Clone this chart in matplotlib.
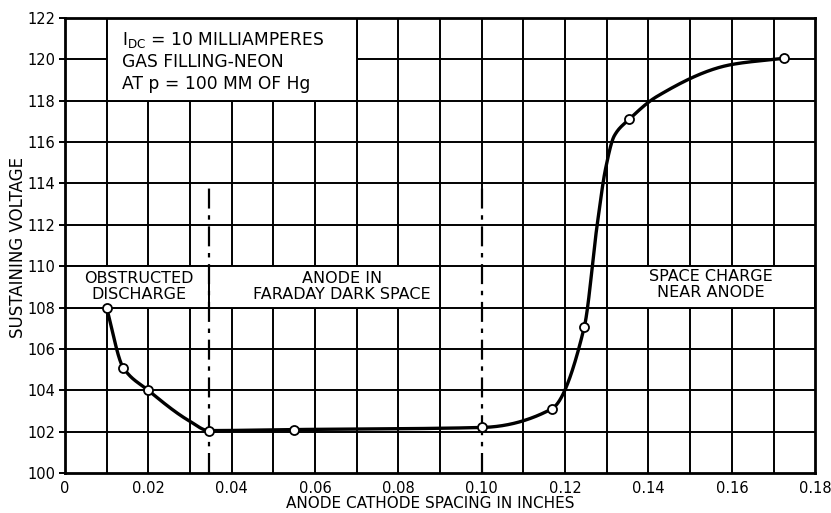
import numpy as np
import matplotlib
matplotlib.use("Agg")
import matplotlib.pyplot as plt
from matplotlib.patches import Rectangle

# measured points (open circles)
point_x = [0.0100, 0.0140, 0.0200, 0.0345, 0.0550, 0.1000, 0.1168, 0.1246, 0.1354, 0.1725]
point_y = [108.0, 105.1, 104.0, 102.05, 102.1, 102.2, 103.1, 107.05, 117.1, 120.05]

# hand drawn curve
curve_x = [0.0100, 0.0140, 0.0200, 0.0300, 0.0345, 0.0550, 0.1000, 0.1168, 0.1246,
           0.1277, 0.1297, 0.1318, 0.1354, 0.1420, 0.1600, 0.1725]
curve_y = [108.0, 105.1, 104.0, 102.5, 102.05, 102.1, 102.2, 103.1, 107.05,
           112.0, 114.7, 116.3, 117.1, 118.2, 119.75, 120.05]

x_ticks = [0, 0.02, 0.04, 0.06, 0.08, 0.10, 0.12, 0.14, 0.16, 0.18]
x_tick_labels = ["0", "0.02", "0.04", "0.06", "0.08", "0.10", "0.12", "0.14", "0.16", "0.18"]
y_ticks = list(range(100, 123, 2))

region_edges = [0.0345, 0.10]
region_top = 113.8


def pchip(x, y, xs):
    x = np.asarray(x, float)
    y = np.asarray(y, float)
    h = np.diff(x)
    d = np.diff(y) / h
    m = np.zeros_like(y)
    for k in range(1, len(x) - 1):
        if d[k - 1] * d[k] > 0:
            w1 = 2 * h[k] + h[k - 1]
            w2 = h[k] + 2 * h[k - 1]
            m[k] = (w1 + w2) / (w1 / d[k - 1] + w2 / d[k])
    m[0] = d[0]
    m[-1] = d[-1]
    idx = np.clip(np.searchsorted(x, xs) - 1, 0, len(h) - 1)
    t = (xs - x[idx]) / h[idx]
    h00 = 2 * t**3 - 3 * t**2 + 1
    h10 = t**3 - 2 * t**2 + t
    h01 = -2 * t**3 + 3 * t**2
    h11 = t**3 - t**2
    return (h00 * y[idx] + h10 * h[idx] * m[idx]
            + h01 * y[idx + 1] + h11 * h[idx] * m[idx + 1])


fig = plt.figure(figsize=(8.31, 5.13), dpi=100)
ax = fig.add_axes([0.078, 0.078, 0.903, 0.887])

ax.set_xlim(0, 0.18)
ax.set_ylim(100, 122)

# grid
grid_x = [round(v, 2) for v in np.arange(0.01, 0.18, 0.01)]
for gx in grid_x:
    if abs(gx - 0.10) < 1e-9:
        ax.plot([gx, gx], [region_top, 122], color="black", lw=1.4, zorder=1)
    else:
        ax.plot([gx, gx], [100, 122], color="black", lw=1.4, zorder=1)
for gy in y_ticks[1:-1]:
    ax.plot([0, 0.18], [gy, gy], color="black", lw=1.4, zorder=1)

# white label boxes over the grid
boxes = [(0.01, 118, 0.06, 4), (0.0, 108, 0.0345, 2),
         (0.0345, 108, 0.0555, 2), (0.13, 108, 0.05, 2)]
for bx, by, bw, bh in boxes:
    ax.add_patch(Rectangle((bx, by), bw, bh, facecolor="white",
                           edgecolor="black", lw=1.4, zorder=2))

# region dividers
for ex in region_edges:
    ax.plot([ex, ex], [100, region_top], color="black", lw=1.6,
            linestyle=(0, (9, 3, 2, 3)), zorder=3)

xs = np.linspace(curve_x[0], curve_x[-1], 4000)
ax.plot(xs, pchip(curve_x, curve_y, xs), color="black", lw=2.4, zorder=4)
ax.plot(point_x, point_y, "o", ms=6.5, mfc="white", mec="black", mew=1.3, zorder=5)

fs = 10.5
bs = 12.3
ax.text(0.0138, 120.95, r"$\mathregular{I_{DC}}$ = 10 MILLIAMPERES", fontsize=bs,
        ha="left", va="center", zorder=6)
ax.text(0.0138, 119.85, "GAS FILLING-NEON", fontsize=bs, ha="left", va="center", zorder=6)
ax.text(0.0138, 118.8, "AT p = 100 MM OF Hg", fontsize=bs, ha="left", va="center", zorder=6)

rs = 11.5
ax.text(0.0178, 109.0, "OBSTRUCTED\nDISCHARGE", fontsize=rs, ha="center",
        va="center", linespacing=1.1, zorder=6)
ax.text(0.0665, 109.0, "ANODE IN\nFARADAY DARK SPACE", fontsize=rs, ha="center",
        va="center", linespacing=1.1, zorder=6)
ax.text(0.155, 109.1, "SPACE CHARGE\nNEAR ANODE", fontsize=rs, ha="center",
        va="center", linespacing=1.1, zorder=6)

ax.set_xticks(x_ticks)
ax.set_xticklabels(x_tick_labels, fontsize=fs)
ax.set_yticks(y_ticks)
ax.set_yticklabels([str(v) for v in y_ticks], fontsize=fs)
ax.tick_params(axis="x", length=0, pad=6)
ax.tick_params(axis="y", length=4, width=1.4, pad=3)

for s in ax.spines.values():
    s.set_linewidth(2)

fig.text(430 / 831, 1 - 503 / 513, "ANODE CATHODE SPACING IN INCHES",
         fontsize=11, ha="center", va="center")
fig.text(18 / 831, 1 - 248 / 513, "SUSTAINING VOLTAGE", fontsize=12,
         rotation=90, ha="center", va="center")

plt.savefig("out.png", dpi=100)
plt.close()
